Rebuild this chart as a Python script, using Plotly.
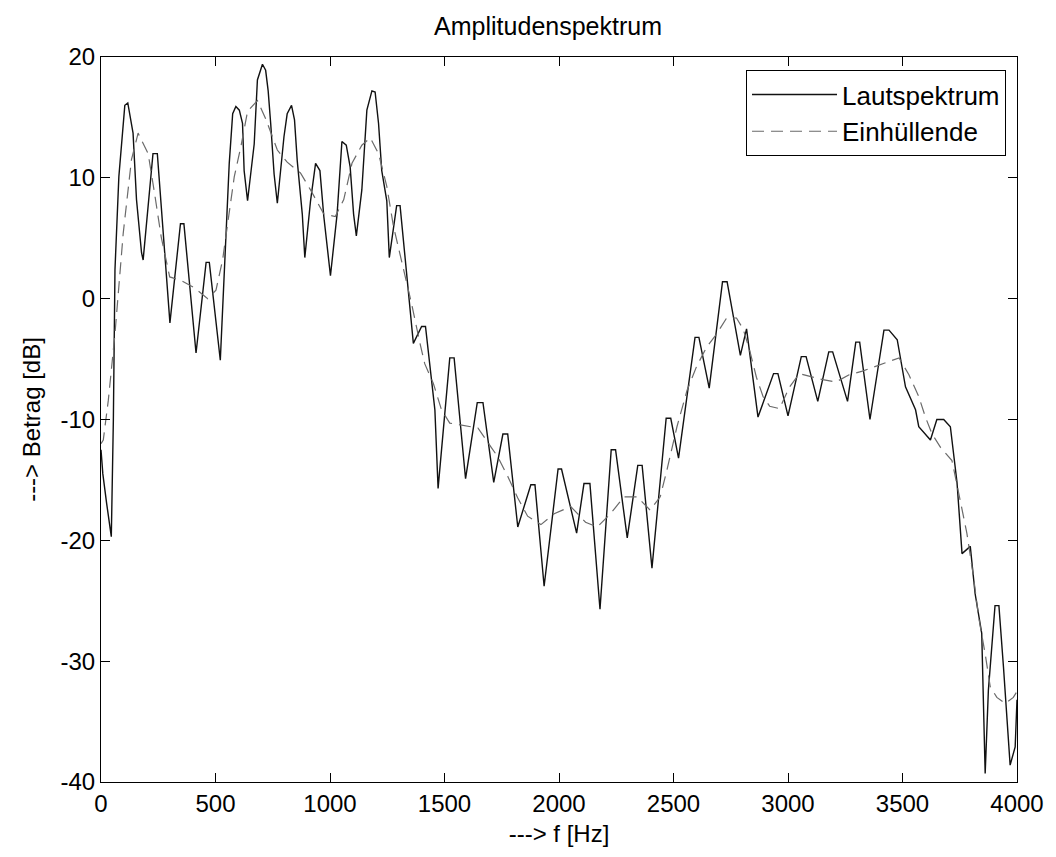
import plotly.graph_objects as go

# Lautspektrum (solid): (frequency [Hz], magnitude [dB])
spectrum_points = [
    (0, -12.5), (8, -14.5), (25, -17.0), (45, -19.7), (54, -10.0), (61, 2.4), (78, 10.1),
    (90, 12.6), (104, 16.0), (117, 16.2), (140, 13.7), (155, 8.2), (177, 3.8), (184, 3.2),
    (227, 12.0), (246, 12.0), (301, -2.0), (347, 6.2), (362, 6.2), (415, -4.5), (459, 3.0),
    (473, 3.0), (521, -5.1), (560, 11.2), (575, 15.3), (589, 15.9), (604, 15.6), (618, 14.5),
    (625, 10.6), (640, 8.1), (669, 12.8), (683, 18.1), (705, 19.4), (719, 18.9), (730, 17.2),
    (741, 14.5), (756, 10.3), (770, 7.9), (799, 13.4), (813, 15.3), (832, 16.0), (845, 14.8),
    (857, 11.4), (879, 7.0), (890, 3.4), (915, 8.1), (937, 11.2), (956, 10.6), (973, 6.8),
    (1002, 1.9), (1031, 7.0), (1052, 13.0), (1071, 12.7), (1088, 10.9), (1103, 7.0),
    (1115, 5.2), (1139, 9.0), (1161, 15.6), (1183, 17.2), (1197, 17.1), (1212, 14.5),
    (1226, 10.6), (1248, 8.1), (1259, 3.4), (1291, 7.7), (1306, 7.7), (1342, 0.2),
    (1364, -3.7), (1400, -2.3), (1417, -2.3), (1458, -9.2), (1472, -15.7), (1523, -4.9),
    (1542, -4.9), (1592, -14.9), (1643, -8.6), (1668, -8.6), (1715, -15.2), (1755, -11.2),
    (1776, -11.2), (1820, -18.9), (1877, -15.4), (1895, -15.4), (1935, -23.8), (1996, -14.1),
    (2011, -14.1), (2077, -19.4), (2109, -15.3), (2135, -15.3), (2179, -25.7), (2228, -12.5),
    (2247, -12.5), (2298, -19.8), (2344, -13.8), (2363, -13.8), (2406, -22.3), (2468, -9.9),
    (2488, -9.9), (2522, -13.2), (2594, -3.2), (2611, -3.2), (2656, -7.4), (2714, 1.4),
    (2734, 1.4), (2792, -4.7), (2819, -2.5), (2869, -9.8), (2937, -6.2), (2956, -6.2),
    (3000, -9.7), (3058, -4.8), (3079, -4.8), (3130, -8.5), (3178, -4.4), (3195, -4.4),
    (3260, -8.5), (3296, -3.6), (3313, -3.6), (3358, -10.0), (3419, -2.6), (3441, -2.6),
    (3477, -3.4), (3513, -7.3), (3557, -9.2), (3571, -10.6), (3622, -11.7), (3650, -10.0),
    (3680, -10.0), (3709, -10.6), (3738, -15.2), (3760, -21.1), (3796, -20.5), (3817, -24.4),
    (3846, -27.7), (3861, -39.3), (3875, -32.4), (3904, -25.4), (3921, -25.4), (3941, -30.5),
    (3970, -38.6), (3992, -37.1), (4000, -33.2),
]
spec_f = [p[0] for p in spectrum_points]
spec_db = [p[1] for p in spectrum_points]

# Einhüllende (dashed envelope): (frequency [Hz], magnitude [dB])
envelope_points = [
    (0, -12.0), (10, -11.7), (32, -8.4), (61, -2.9), (97, 5.4), (111, 7.9), (133, 11.5),
    (162, 13.7), (206, 12.0), (234, 8.7), (263, 5.1), (300, 1.8), (350, 1.5), (408, 0.9),
    (466, 0.0), (502, 0.7), (531, 3.2), (553, 6.2), (582, 10.1), (611, 12.6), (640, 15.5),
    (683, 16.4), (719, 14.9), (770, 12.3), (813, 11.3), (871, 10.4), (915, 9.0), (973, 7.0),
    (1023, 6.8), (1060, 8.2), (1096, 11.2), (1139, 12.7), (1176, 13.3), (1212, 12.0),
    (1248, 9.3), (1277, 6.0), (1320, 2.6), (1356, -0.4), (1393, -3.7), (1414, -5.4),
    (1451, -7.0), (1487, -9.2), (1523, -10.3), (1588, -10.5), (1646, -10.7), (1704, -12.3),
    (1733, -13.1), (1776, -14.7), (1820, -16.5), (1863, -18.0), (1921, -18.7), (1979, -17.8),
    (2051, -17.2), (2116, -18.5), (2167, -18.9), (2225, -17.8), (2283, -16.4), (2341, -16.4),
    (2398, -17.5), (2442, -16.4), (2471, -14.2), (2515, -10.6), (2559, -7.6), (2601, -5.6),
    (2645, -4.0), (2689, -2.9), (2732, -1.6), (2775, -1.6), (2804, -2.5), (2833, -4.3),
    (2862, -6.5), (2891, -8.1), (2920, -8.9), (2963, -9.1), (3007, -7.3), (3050, -6.2),
    (3108, -6.5), (3152, -6.7), (3209, -6.9), (3267, -6.3), (3325, -6.0), (3398, -5.5),
    (3441, -5.2), (3485, -4.9), (3528, -6.3), (3571, -8.1), (3600, -9.8), (3629, -11.2),
    (3666, -12.3), (3716, -13.4), (3752, -16.7), (3781, -19.4), (3810, -23.0), (3832, -26.3),
    (3861, -29.4), (3883, -32.1), (3912, -33.0), (3948, -33.5), (3984, -33.0), (4000, -32.5),
]
env_f = [p[0] for p in envelope_points]
env_db = [p[1] for p in envelope_points]

x_ticks = [0, 500, 1000, 1500, 2000, 2500, 3000, 3500, 4000]
y_ticks = [-40, -30, -20, -10, 0, 10, 20]

FONT = "Liberation Sans, Arial, sans-serif"

fig = go.Figure()
fig.add_trace(go.Scatter(x=spec_f, y=spec_db, mode="lines", name="Lautspektrum",
                         line=dict(color="#111111", width=1.4)))
fig.add_trace(go.Scatter(x=env_f, y=env_db, mode="lines", name="Einhüllende",
                         line=dict(color="#6a6a6a", width=1.2, dash="12px,7px")))

axis_common = dict(showgrid=False, zeroline=False, showline=True, linecolor="black",
                   linewidth=1, mirror="ticks", ticks="inside", ticklen=9,
                   tickcolor="black", tickfont=dict(family=FONT, size=24, color="black"))

fig.update_layout(
    width=1056, height=857,
    margin=dict(l=101, r=34, t=57, b=75),
    paper_bgcolor="white", plot_bgcolor="white",
    font=dict(family=FONT, size=24, color="black"),
    title=dict(text="Amplitudenspektrum", x=0.519, xanchor="center",
               y=1 - 26 / 857, yanchor="middle", yref="container",
               font=dict(family=FONT, size=25, color="black")),
    xaxis=dict(range=[0, 4000], tickvals=x_ticks, ticktext=[str(v) for v in x_ticks],
               title=dict(text="---> f [Hz]", standoff=9,
                          font=dict(family=FONT, size=24, color="black")),
               **axis_common),
    yaxis=dict(range=[-40, 20], tickvals=y_ticks, ticktext=[str(v) for v in y_ticks],
               title=dict(text="---> Betrag [dB]", standoff=13,
                          font=dict(family=FONT, size=24, color="black")),
               **axis_common),
    legend=dict(x=0.988, y=0.982, xanchor="right", yanchor="top",
                bgcolor="white", bordercolor="black", borderwidth=1,
                itemwidth=85, font=dict(family=FONT, size=26, color="black"),
                tracegroupgap=0),
    showlegend=True,
)

fig.write_html("out.html")
